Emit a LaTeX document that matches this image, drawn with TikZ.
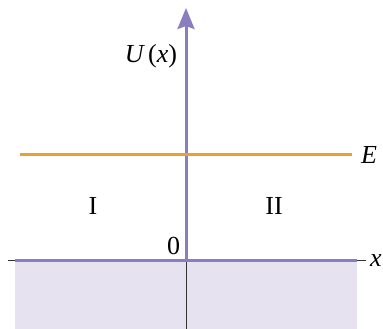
\documentclass[tikz,border=0pt]{standalone}
\usepackage{fontspec}
\setmainfont{Liberation Serif}
\usetikzlibrary{arrows.meta}
\definecolor{axpurple}{HTML}{8A7DC0}
\definecolor{bgshade}{HTML}{E6E2EF}
\definecolor{eorange}{HTML}{E9A131}
\tikzset{
  lbl/.style={inner sep=0pt, font=\fontsize{26}{31}\selectfont},
  thickpurple/.style={draw=axpurple, line width=3pt},
  thinaxis/.style={draw=black!80, line width=1pt}
}
\begin{document}
\begin{tikzpicture}[x=1pt,y=1pt]
\useasboundingbox (0,0) rectangle (383,329);
\fill[fill=bgshade] (15,0) rectangle (357,68);
\draw[thinaxis] (8,68) -- (366,68);
\draw[thinaxis] (186,0) -- (186,68);
\draw[thickpurple] (15,68) -- (357,68);
\draw[thickpurple, -{Stealth[length=21pt,width=17pt,inset=3pt]}] (186,68) -- (186,321);
\draw[draw=eorange, line width=3pt] (20,174) -- (352,174);
\node[lbl] (U) at (151,273) {\itshape U\/\kern3pt\upshape(\itshape x\/\upshape)};
\node[lbl] (E) at (369,174) {\itshape E};
\node[lbl] (X) at (376,68) {\itshape x};
\node[lbl] (I) at (93,123.5) {I};
\node[lbl] (II) at (274,123.5) {II};
\node[lbl] (O) at (173.5,83) {0};
\end{tikzpicture}
\end{document}
